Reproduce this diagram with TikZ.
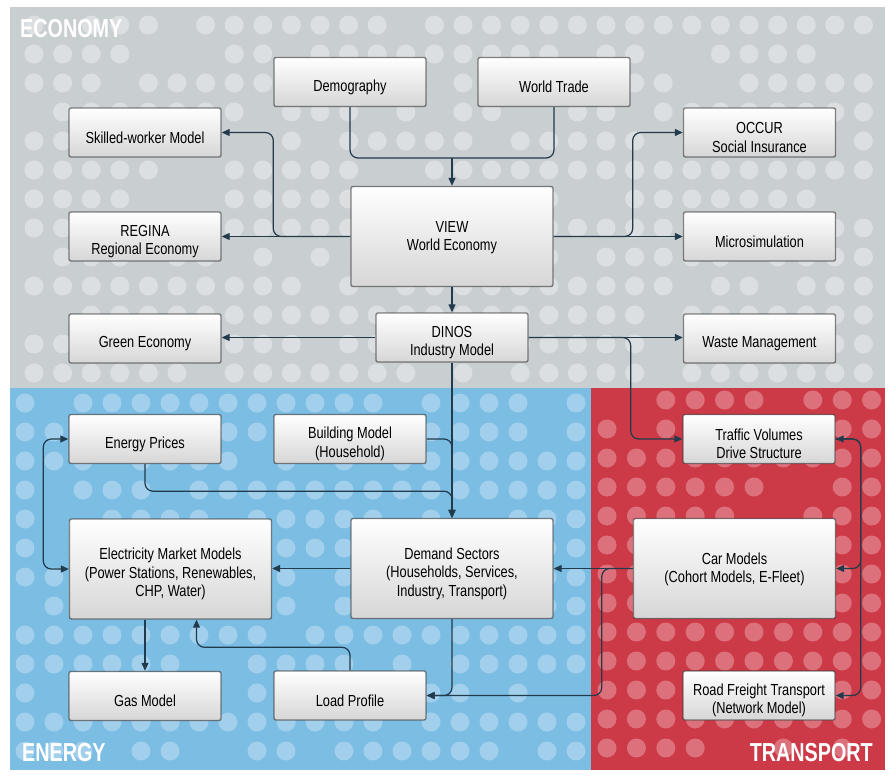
\documentclass[tikz,border=0pt]{standalone}
\usepackage{fontspec}
\setmainfont{Liberation Sans}[FakeStretch=0.8]
\newfontfamily\headfont{Liberation Sans}[FakeStretch=0.76]
\usetikzlibrary{arrows.meta}
\definecolor{econbg}{HTML}{C9CED1}
\definecolor{econdot}{HTML}{DBDFE1}
\definecolor{enerbg}{HTML}{7BBDE3}
\definecolor{enerdot}{HTML}{A2CFEC}
\definecolor{transbg}{HTML}{CC3A47}
\definecolor{transdot}{HTML}{DC717B}
\definecolor{linkcol}{HTML}{213A4C}
\begin{document}
\begin{tikzpicture}[x=1pt,y=-1pt]
            \tikzset{
                model/.style={draw=black!80,draw opacity=0.6,line width=1.4pt,rounded corners=2pt,top color=white,bottom color=black!16,text width=148pt,minimum width=152pt,minimum height=49pt,align=flush center,inner sep=2pt,font=\fontsize{16}{18.5}\selectfont,execute at begin node={\rule{0pt}{21.5pt}}},
                bigmodel/.style={model,text width=198pt,minimum width=202pt,minimum height=100pt},
                raised/.style={execute at begin node={},execute at end node={\rule[-12pt]{0pt}{0pt}}},
                link/.style={line width=1.2pt,draw=linkcol,rounded corners=8pt,-{Triangle[length=8pt,width=7pt]}},
                both/.style={link,{Triangle[length=8pt,width=7pt]}-{Triangle[length=8pt,width=7pt]}},
                heading/.style={text=white,inner sep=0pt,font=\headfont\bfseries\fontsize{26}{26}\selectfont},}
            \useasboundingbox (0,0) rectangle (894,781);
            \fill[white] (0,0) rectangle (894,781);
            \fill[econbg] (10,7) rectangle (885,388);
            \fill[enerbg] (10,388) rectangle (591,770);
            \fill[transbg] (591,388) rectangle (885,770);
            % dot pattern
            \pgfmathsetseed{42}
            \foreach \i in {0,...,29} \foreach \j in {0,...,12} {
                \pgfmathtruncatemacro\keep{rnd<0.82}
                \ifnum\keep=1 \fill[econdot] (34+28.6*\i,25+29*\j) circle (9.5pt); \fi}
            \foreach \i in {0,...,19} \foreach \j in {0,...,12} {
                \pgfmathtruncatemacro\keep{rnd<0.82}
                \ifnum\keep=1 \fill[enerdot] (25+29*\i,403+29*\j) circle (9.5pt); \fi}
            \foreach \i in {0,...,9} \foreach \j in {0,...,12} {
                \pgfmathtruncatemacro\keep{rnd<0.82}
                \ifnum\keep=1 \fill[transdot] (607+29.4*\i,400+29*\j) circle (9.5pt); \fi}
            \node[heading,anchor=base west] (econlabel) at (20,38) {ECONOMY};
            \node[heading,anchor=base west] (enerlabel) at (22,761) {ENERGY};
            \node[heading,anchor=base east] (translabel) at (873,761) {TRANSPORT};
            % economy
            \node[model] (demo) at (350,82) {Demography};
            \node[model] (trade) at (554,82) {World Trade};
            \node[model] (skilled) at (145,132.5) {Skilled-worker Model};
            \node[model] (regina) at (145,236.5) {REGINA\\Regional Economy};
            \node[bigmodel,raised] (view) at (452,236.5) {VIEW\\World Economy};
            \node[model] (occur) at (759.5,132.5) {OCCUR\\Social Insurance};
            \node[model] (micro) at (759.5,236.5) {Microsimulation};
            \node[model] (green) at (145,338.5) {Green Economy};
            \node[model] (dinos) at (452,337.5) {DINOS\\Industry Model};
            \node[model] (waste) at (759.5,338.5) {Waste Management};
            % energy
            \node[model] (prices) at (145,439) {Energy Prices};
            \node[model] (building) at (350,439) {Building Model\\(Household)};
            \node[bigmodel] (elec) at (170.5,569) {Electricity Market Models\\(Power Stations, Renewables,\\CHP, Water)};
            \node[bigmodel] (demand) at (452,568.5) {Demand Sectors\\(Households, Services,\\Industry, Transport)};
            \node[model] (gas) at (145,696) {Gas Model};
            \node[model] (load) at (350,695.5) {Load Profile};
            % transport
            \node[model] (traffic) at (759,439) {Traffic Volumes\\Drive Structure};
            \node[bigmodel,raised] (car) at (734.5,568.5) {Car Models\\(Cohort Models, E-Fleet)};
            \node[model] (freight) at (759,695.5) {Road Freight Transport\\(Network Model)};
            \coordinate (join) at (452,158);
            \draw[link,-] (demo.south) |- (join);
            \draw[link,-] (trade.south) |- (join);
            \draw[link] (join) -- (view.north);
            \draw[link] (view.west) -- (regina.east);
            \draw[link] (view.west) -- ++(-77,0) |- (skilled.east);
            \draw[link] (view.east) -- (micro.west);
            \draw[link] (view.east) -- ++(79,0) |- (occur.west);
            \draw[link] (view.south) -- (dinos.north);
            \draw[link] (dinos.west) -- (dinos.west -| green.east);
            \draw[link] (dinos.east) -- (dinos.east -| waste.west);
            \draw[link] (dinos.east) -- ++(102,0) |- (traffic.west);
            \draw[link] (dinos.south) -- (demand.north);
            \draw[link] (building.east) -| (demand.north);
            \draw[link] (prices.south) -- ++(0,27) -| (demand.north);
            \draw[both] (prices.west) -- ++(-25,0) |- (elec.west);
            \draw[link] (demand.west) -- (demand.west -| elec.east);
            \draw[link] (gas.north |- elec.south) -- (gas.north);
            \draw[link] (load.north) -- ++(0,-23) -| ([xshift=26pt]elec.south);
            \draw[link] (demand.south) |- (load.east);
            \draw[link] (car.west) -- (demand.east);
            \draw[link] (car.west) -- ++(-31,0) |- (load.east);
            \draw[link] (traffic.east) -- ++(25,0) |- (car.east);
            \draw[both] (traffic.east) -- ++(25,0) |- (freight.east);
        \end{tikzpicture}
\end{document}
